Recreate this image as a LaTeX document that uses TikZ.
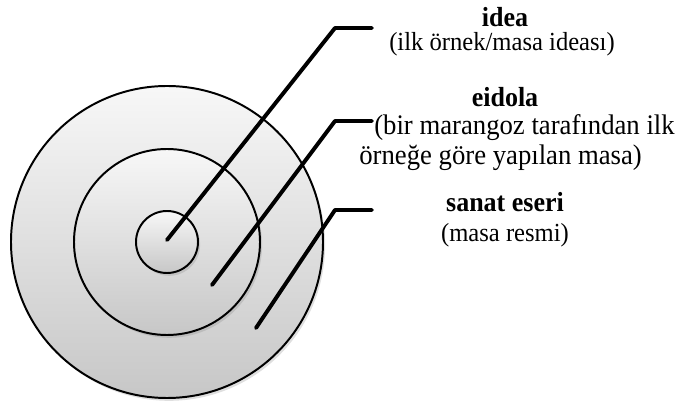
\documentclass[tikz,border=0pt]{standalone}
\usepackage{fontspec}
\usepackage{graphicx}
\setmainfont{Liberation Serif}
\usetikzlibrary{shadows}

\newcommand{\tall}[1]{\scalebox{1}[1.06]{#1}}

\begin{document}
\begin{tikzpicture}[x=0.25mm,y=-0.25mm,
    ring/.style={draw,circle,line width=1.4pt,inner sep=0pt,
                 top color=white!97!black,bottom color=black!22,
                 drop shadow={opacity=0.25,shadow xshift=1.5pt,shadow yshift=-2pt}},
    leader/.style={line width=2.8pt,line join=round,line cap=round},
    head/.style={font=\fontsize{18.5}{22}\selectfont\bfseries,inner sep=0pt},
    sub/.style={font=\fontsize{17.5}{21}\selectfont,inner sep=0pt,align=center},
]
\useasboundingbox (0,0) rectangle (680,403);

% ---- centre of the target -------------------------------------------------
\def\xC{167}
\def\yC{242}
\def\xT{505}

% ---- Rings -----------------------------------------------------------------
\node[ring,minimum size=78mm]   (outer)  at (\xC,\yC) {};
\node[ring,minimum size=46.5mm] (middle) at (\xC,\yC) {};
\node[ring,minimum size=15.5mm] (inner)  at (\xC,\yC) {};

% ---- Labels ----------------------------------------------------------------
\node[head] (idea)   at (\xT,17)  {\tall{idea}};
\node[sub]  (ideaD)  at (\xT-3,44) {\tall{(ilk örnek/masa ideası)}};
\node[head] (eidola) at (\xT,97)  {\tall{eidola}};
\node[sub,anchor=west] (eidolaD1) at (374,128)
    {\fontsize{19}{21}\selectfont\tall{(bir marangoz tarafından ilk}};
\node[sub,anchor=west] (eidolaD2) at (359,158)
    {\fontsize{19}{21}\selectfont\tall{örneğe göre yapılan masa)}};
\node[head] (eser)   at (\xT,202) {\tall{sanat eseri}};
\node[sub]  (eserD)  at (\xT,235) {\tall{(masa resmi)}};

% ---- Leader ends -----------------------------------------------------------
\coordinate (ideaTip) at (167,240);  \coordinate (ideaEnd) at (372,28);
\coordinate (eidTip)  at (212,285);  \coordinate (eidEnd)  at (372,121);
\coordinate (eserTip) at (256,328);  \coordinate (eserEnd) at (372,210);

\draw[leader] (ideaTip) -- ++(168,-212) -- (ideaEnd);
\draw[leader] (eidTip)  -- ++(123,-164) -- (eidEnd);
\draw[leader] (eserTip) -- ++(79,-118)  -- (eserEnd);

\end{tikzpicture}
\end{document}
